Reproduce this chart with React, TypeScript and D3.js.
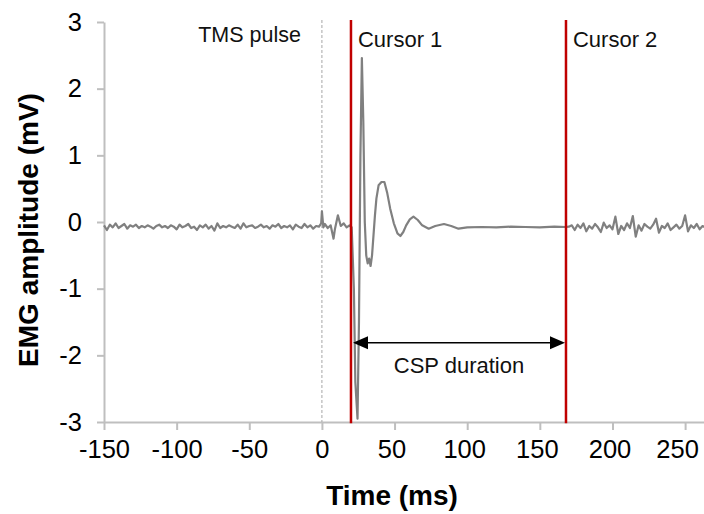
import React, { useEffect, useRef } from "react";
import * as d3 from "d3";

const SAMPLE_MS = 2;
const PRE_START_MS = -150;
const preStimMv = [
  -0.05, -0.12, -0.04, -0.08, -0.02, -0.09, -0.06, -0.03, -0.1, -0.05,
  -0.07, -0.04, -0.09, -0.06, -0.08, -0.05, -0.07, -0.1, -0.06, -0.04,
  -0.08, -0.06, -0.09, -0.05, -0.07, -0.11, -0.04, -0.08, -0.06, -0.03,
  -0.09, -0.07, -0.12, -0.05, -0.08, -0.04, -0.1, -0.06, -0.13, -0.02,
  -0.09, -0.06, -0.08, -0.05, -0.07, -0.09, -0.04, -0.1, -0.02, -0.08,
  -0.06, -0.05, -0.09, -0.07, -0.04, -0.08, -0.06, -0.1, -0.05, -0.07,
  -0.03, -0.09, -0.06, -0.08, -0.05, -0.11, -0.04, -0.07, -0.09, -0.03,
  -0.08, -0.05, -0.1, -0.06,
];

const evokedMs = [
  -2, -0.5, 0, 1, 2, 4, 6, 8, 9, 11, 12, 13, 15, 17, 19, 20.5,
  22, 23, 24.5, 25.5, 26.5, 27.5, 28.5, 29.5, 30.5, 31.5, 32.5, 33.5, 34.5,
  35.5, 36.5, 37.5, 39, 41, 43, 45, 47, 49.5, 52, 54, 56, 58, 60.5, 63, 66,
  69, 73.5, 78, 84, 89, 94, 100, 110, 120, 130, 140, 150, 160, 168,
];
const evokedMv = [
  -0.07, -0.02, 0.16, -0.08, -0.03, -0.09, -0.05, -0.25, -0.1, 0.1, 0.02, -0.06, -0.02, -0.08, -0.05, -0.08,
  -1.0, -2.4, -2.95, -1.5, 1.0, 2.46, 1.5, 0.0, -0.5, -0.62, -0.55, -0.66, -0.5,
  -0.2, 0.1, 0.35, 0.55, 0.6, 0.6, 0.43, 0.2, -0.02, -0.17, -0.21, -0.15, -0.05, 0.04, 0.08, 0.03,
  -0.05, -0.1, -0.06, -0.03, -0.06, -0.1, -0.08, -0.075, -0.08, -0.07, -0.075, -0.08, -0.07, -0.075,
];

const POST_START_MS = 170;
const postStimMv = [
  -0.07, -0.05, -0.12, -0.04, -0.09, -0.02, -0.14, -0.06, -0.1, -0.03,
  -0.08, -0.15, -0.01, -0.09, -0.05, -0.11, 0.08, -0.18, -0.06, -0.12,
  -0.02, -0.09, 0.09, -0.22, -0.05, -0.13, -0.03, -0.07, -0.1, -0.04,
  0.05, -0.16, -0.06, -0.09, -0.02, -0.12, -0.08, -0.04, -0.1, -0.06,
  0.1, -0.14, -0.05, -0.09, -0.03, -0.11, -0.06, -0.08,
];

const pulseMs = 0;
const cursorMs = [20, 168];
const cursorLabels = ["Cursor 1", "Cursor 2"];
const cspArrowMv = -1.81;
const xTicks = [-150, -100, -50, 0, 50, 100, 150, 200, 250];
const yTicks = [-3, -2, -1, 0, 1, 2, 3];

export default function App() {
  const ref = useRef<SVGSVGElement>(null);

  useEffect(() => {
    document.body.style.margin = "0";
    const width = 704;
    const height = 514;
    const margin = { left: 104, right: 0, top: 22, bottom: 92 };

    const svg = d3.select(ref.current)
      .attr("width", width)
      .attr("height", height)
      .style("display", "block")
      .style("font-family", "Arial, 'Liberation Sans', sans-serif")
      .html("");

    const x = d3.scaleLinear().domain([-150, 263]).range([margin.left, width - margin.right]);
    const y = d3.scaleLinear().domain([-3, 3]).range([height - margin.bottom, margin.top]);

    const trace: [number, number][] = [
      ...preStimMv.map((v, i) => [PRE_START_MS + i * SAMPLE_MS, v] as [number, number]),
      ...evokedMs.map((t, i) => [t, evokedMv[i]] as [number, number]),
      ...postStimMv.map((v, i) => [POST_START_MS + i * SAMPLE_MS, v] as [number, number]),
    ];

    const axisColor = "#bfbfbf";
    const fmt = (d: d3.NumberValue) => String(d);

    // axes
    const xAxis = svg.append("g")
      .attr("transform", `translate(0,${y(-3)})`)
      .call(d3.axisBottom(x).tickValues(xTicks).tickFormat(fmt).tickSize(8).tickPadding(10).tickSizeOuter(0));
    xAxis.select(".domain").attr("stroke", axisColor).attr("stroke-width", 2);
    xAxis.selectAll(".tick line").attr("stroke", axisColor).attr("stroke-width", 2);
    xAxis.selectAll(".tick text")
      .attr("fill", "#000")
      .attr("dx", (d: any) => (d === 250 ? -8 : d > 0 ? -3 : 0))
      .style("font-size", "25.5px");

    const yAxis = svg.append("g")
      .attr("transform", `translate(${x(-150)},0)`)
      .call(d3.axisLeft(y).tickValues(yTicks).tickFormat(fmt).tickSize(7).tickPadding(15).tickSizeOuter(0));
    yAxis.select(".domain").attr("stroke", axisColor).attr("stroke-width", 2);
    yAxis.selectAll(".tick line").attr("stroke", axisColor).attr("stroke-width", 2);
    yAxis.selectAll(".tick text").attr("fill", "#000").style("font-size", "25.5px");

    // TMS pulse marker
    svg.append("line")
      .attr("x1", x(pulseMs)).attr("x2", x(pulseMs))
      .attr("y1", y(3.03)).attr("y2", y(-3))
      .attr("stroke", "#a6a6a6")
      .attr("stroke-width", 1)
      .attr("stroke-dasharray", "3,2");

    svg.append("text")
      .attr("x", x(pulseMs) - 21)
      .attr("y", y(2.7))
      .attr("text-anchor", "end")
      .style("font-size", "21.5px")
      .attr("fill", "#111")
      .text("TMS pulse");

    // EMG trace
    svg.append("path")
      .datum(trace)
      .attr("fill", "none")
      .attr("stroke", "#808080")
      .attr("stroke-width", 2.2)
      .attr("stroke-linejoin", "round")
      .attr("d", d3.line<[number, number]>().x(d => x(d[0])).y(d => y(d[1])));

    // cursors
    cursorMs.forEach((t, i) => {
      svg.append("line")
        .attr("x1", x(t)).attr("x2", x(t))
        .attr("y1", y(3.03)).attr("y2", y(-3.02))
        .attr("stroke", "#c00000")
        .attr("stroke-width", 2.5);
      svg.append("text")
        .attr("x", x(t) + 7)
        .attr("y", y(2.63))
        .style("font-size", "22px")
        .attr("fill", "#111")
        .text(cursorLabels[i]);
    });

    // CSP duration arrow
    const ay = y(cspArrowMv);
    const x0 = x(cursorMs[0]) + 2;
    const x1 = x(cursorMs[1]) - 1;
    svg.append("line")
      .attr("x1", x0 + 10).attr("x2", x1 - 10)
      .attr("y1", ay).attr("y2", ay)
      .attr("stroke", "#000")
      .attr("stroke-width", 1.5);
    svg.append("path")
      .attr("d", `M${x0},${ay} L${x0 + 15},${ay - 6.5} L${x0 + 15},${ay + 6.5} Z`)
      .attr("fill", "#000");
    svg.append("path")
      .attr("d", `M${x1},${ay} L${x1 - 15},${ay - 6.5} L${x1 - 15},${ay + 6.5} Z`)
      .attr("fill", "#000");
    svg.append("text")
      .attr("x", (x0 + x1) / 2)
      .attr("y", ay + 30)
      .attr("text-anchor", "middle")
      .style("font-size", "22px")
      .attr("fill", "#111")
      .text("CSP duration");

    // axis titles
    svg.append("text")
      .attr("x", 392)
      .attr("y", 505)
      .attr("text-anchor", "middle")
      .style("font-size", "28px")
      .style("font-weight", "bold")
      .text("Time (ms)");

    svg.append("text")
      .attr("transform", `translate(38,${y(0) + 8}) rotate(-90)`)
      .attr("text-anchor", "middle")
      .style("font-size", "28px")
      .style("font-weight", "bold")
      .text("EMG amplitude (mV)");
  }, []);

  return <svg ref={ref} />;
}
